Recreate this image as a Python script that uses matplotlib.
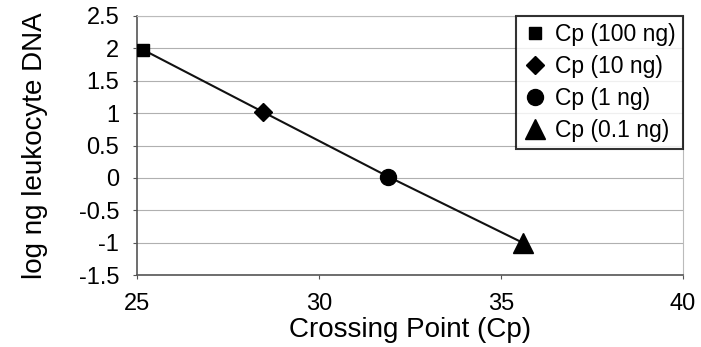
import matplotlib.pyplot as plt
import numpy as np

plt.rcParams['font.family'] = ['Liberation Sans', 'DejaVu Sans']

# data
labels = ['Cp (100 ng)', 'Cp (10 ng)', 'Cp (1 ng)', 'Cp (0.1 ng)']
cp = [25.15, 28.45, 31.9, 35.6]
log_dna = [1.98, 1.02, 0.02, -1.0]
markers = ['s', 'D', 'o', '^']
msizes = [9, 9, 11.5, 14]

fig = plt.figure(figsize=(7.01, 3.47), dpi=100)
ax = fig.add_axes([0.196, 0.207, 0.778, 0.747])

# fitted line through the points
ax.plot(cp, log_dna, color='#111111', lw=1.5, zorder=2)
for x, y, m, s, lab in zip(cp, log_dna, markers, msizes, labels):
    ax.plot([x], [y], marker=m, ms=s, color='black', ls='none', label=lab, zorder=3)

ax.set_xlim(25, 40)
ax.set_ylim(-1.5, 2.5)
ax.set_xticks([25, 30, 35, 40])
ax.set_yticks(np.arange(-1.5, 2.51, 0.5))
ax.set_yticklabels(['-1.5', '-1', '-0.5', '0', '0.5', '1', '1.5', '2', '2.5'])
ax.yaxis.grid(True, color='#b0b0b0', lw=0.8)
ax.set_axisbelow(True)
for s in ['left', 'bottom']:
    ax.spines[s].set_color('#555555')
    ax.spines[s].set_linewidth(1.2)
for s in ['top', 'right']:
    ax.spines[s].set_color('#bbbbbb')
    ax.spines[s].set_linewidth(0.8)
ax.tick_params(labelsize=17, length=3, color='#555555', pad=10)

ax.set_xlabel('Crossing Point (Cp)', fontsize=20, labelpad=1)
ax.set_ylabel('log ng leukocyte DNA', fontsize=20, labelpad=22)

leg = ax.legend(loc='upper right', fontsize=16.5, frameon=True, fancybox=False,
                edgecolor='black', handlelength=1.0, handletextpad=0.4,
                borderaxespad=0, labelspacing=0.4, borderpad=0.3)
leg.get_frame().set_linewidth(1.5)

fig.savefig('out.png', dpi=100)
